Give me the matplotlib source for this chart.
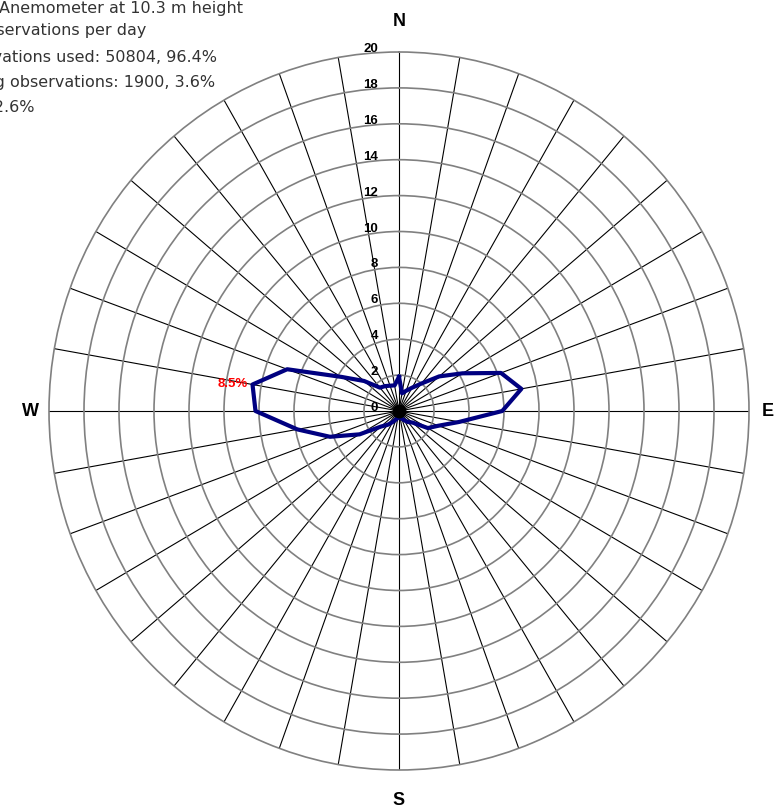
import numpy as np
import matplotlib
matplotlib.use("Agg")
import matplotlib.pyplot as plt

# wind direction frequency (%) by compass direction
directions = [0, 10, 20, 30, 40, 50, 60, 70, 80, 90, 100, 110,
              120, 130, 140, 150, 160, 170, 180, 190, 200, 210, 220, 230,
              240, 250, 260, 270, 280, 290, 300, 310, 320, 330, 340, 350]
frequency = [1.9, 1.0, 1.2, 1.5, 2.0, 3.0, 4.2, 6.2, 7.1, 5.9, 3.5, 2.4,
             1.9, 1.0, 0.8, 0.6, 0.45, 0.35, 0.33, 0.4, 0.5, 0.7, 1.0, 1.35,
             2.6, 4.2, 5.9, 8.2, 8.5, 6.8, 3.8, 2.6, 1.7, 1.6, 1.5, 1.45]
ring_values = [0, 2, 4, 6, 8, 10, 12, 14, 16, 18, 20]
compass = ["N", "E", "S", "W"]
header_lines = [
    "Anemometer at 10.3 m height",
    "8 observations per day",
    "Observations used: 50804, 96.4%",
    "Missing observations: 1900, 3.6%",
    "Calms: 2.6%",
]
header_right = [243, 146, 217, 215, 34]  # right edge of each line, px
header_y = [8, 31, 57, 82, 107]

W, H = 775, 810
fig = plt.figure(figsize=(W / 100, H / 100), dpi=100)
fig.patch.set_facecolor("white")

cx, cy, rx, ry = 399, 411, 350, 359
ax = fig.add_axes([(cx - rx) / W, (H - cy - ry) / H, 2 * rx / W, 2 * ry / H],
                  projection="polar")
ax.set_aspect("auto")
ax.set_theta_zero_location("N")
ax.set_theta_direction(-1)
ax.set_ylim(0, 20)
ax.set_thetagrids(np.arange(0, 360, 10), labels=[""] * 36)
ax.set_rgrids(ring_values[1:-1], labels=[""] * 9)
ax.xaxis.grid(True, color="black", linewidth=0.8)
ax.yaxis.grid(True, color="#808080", linewidth=1.2)
ax.spines["polar"].set_color("#808080")
ax.spines["polar"].set_linewidth(1.2)
ax.tick_params(length=0)

# frequency polygon
th = np.deg2rad(directions + [directions[0]])
ax.plot(th, frequency + [frequency[0]], color="#000080", linewidth=3.0,
        solid_joinstyle="round", zorder=5)
ax.plot(0, 0, "o", color="black", markersize=9, zorder=6)

# ring labels, right-aligned just left of the north line
px_x = rx / 20.0
px_y = ry / 20.0
for v in ring_values:
    xu = -21 / px_x
    yu = v + 3 / px_y
    ax.text(np.arctan2(xu, yu), np.hypot(xu, yu), str(v), ha="right",
            va="center", fontsize=9.5, fontweight="bold", color="black",
            family="Liberation Sans", zorder=7)

# label for the largest value
imax = int(np.argmax(frequency))
ax.text(np.deg2rad(directions[imax]), frequency[imax] + 0.25,
        f"{frequency[imax]}%", ha="right", va="center", fontsize=9.5,
        fontweight="bold", color="red", family="Liberation Sans", zorder=7)

# compass letters
for name, ang in zip(compass, [0, 90, 180, 270]):
    ax.text(np.deg2rad(ang), 21.7 if ang in (0, 180) else 21.05, name,
            ha="center", va="center", fontsize=13, fontweight="bold",
            family="Liberation Sans")

# header text, clipped at the left edge
for line, xr, yp in zip(header_lines, header_right, header_y):
    fig.text(xr / W, 1 - yp / H, line, ha="right", va="center",
             fontsize=11.5, color="#333333")

fig.savefig("out.png", dpi=100, facecolor="white")
